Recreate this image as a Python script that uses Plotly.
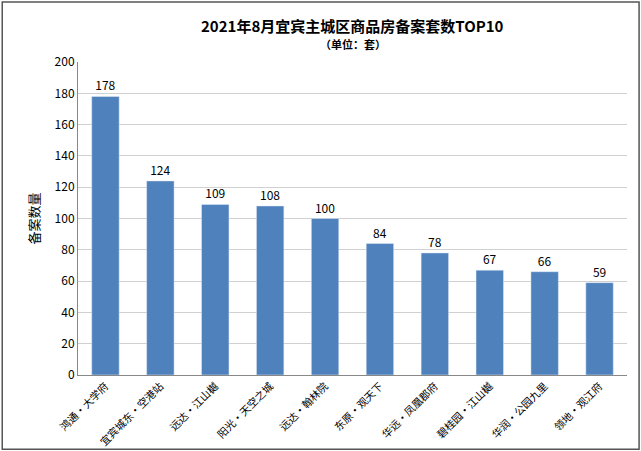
import plotly.graph_objects as go

projects = ['鸿通·大学府', '宜宾城东·空港站', '远达·江山樾', '阳光·天空之城', '远达·翰林院',
            '东原·观天下', '华远·凤凰郡府', '碧桂园·江山樾', '华润·公园九里', '领地·观江府']
counts = [178, 124, 109, 108, 100, 84, 78, 67, 66, 59]

font = 'Noto Sans CJK SC'

fig = go.Figure(go.Bar(
    x=projects, y=counts, marker_color='#4f81bd', width=0.5,
    text=counts, textposition='outside', textfont=dict(size=12, color='#000'),
    cliponaxis=False,
))

fig.update_layout(
    width=641, height=451,
    margin=dict(l=78, r=14, t=62, b=76, autoexpand=False),
    paper_bgcolor='white', plot_bgcolor='white',
    font=dict(family=font, color='#000'),
    showlegend=False,
    annotations=[
        dict(text='<b>2021年8月宜宾主城区商品房备案套数TOP10</b>', xref='paper', yref='paper',
             x=0.5, y=1.155, showarrow=False, font=dict(size=15)),
        dict(text='<b>（单位：套）</b>', xref='paper', yref='paper',
             x=0.5, y=1.09, showarrow=False, font=dict(size=11)),
    ],
    xaxis=dict(tickangle=-45, tickfont=dict(size=10.5), showline=True, linecolor='#888', ticks=''),
    yaxis=dict(range=[0, 200], dtick=20, showgrid=True, gridcolor='#d0d0d0',
               showline=True, linecolor='#888', tickfont=dict(size=12),
               title=dict(text='备案数量', font=dict(size=13), standoff=12)),
    shapes=[dict(type='rect', xref='paper', yref='paper', x0=-0.138, x1=1.022,
                 y0=-0.237, y1=1.192, line=dict(color='#555', width=1.5))],
)

fig.write_html('out.html', config={'displayModeBar': False},
               post_script="document.body.style.margin='0';")
